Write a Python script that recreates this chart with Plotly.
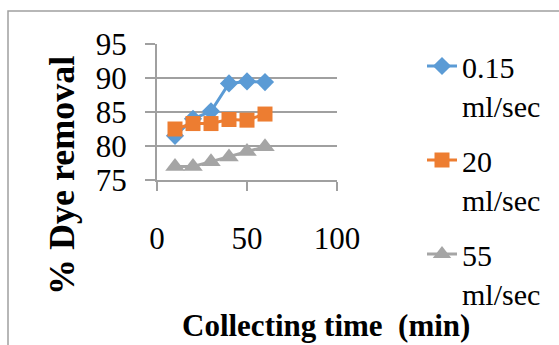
import plotly.graph_objects as go

time_min = [10, 20, 30, 40, 50, 60]
rate_015 = [81.5, 84.0, 85.1, 89.2, 89.5, 89.4]
rate_20 = [82.5, 83.3, 83.3, 83.9, 83.8, 84.7]
rate_55 = [77.0, 77.0, 77.7, 78.4, 79.2, 79.9]
series_names = ["0.15<br>ml/sec", "20<br>ml/sec", "55<br>ml/sec"]
x_ticks = [0, 50, 100]
y_ticks = [75, 80, 85, 90, 95]

FONT = "Liberation Serif"
W, H = 559, 345
L, R, T, B = 157, 337, 44, 180

def px_x(p):
    return (p - L) / (R - L)

def px_y(p):
    return (B - p) / (B - T)

fig = go.Figure()
styles = [("#5B9BD5", "diamond", 14), ("#ED7D31", "square", 15), ("#A5A5A5", "triangle-up", 17)]
for i, (vals, name, (col, sym, sz)) in enumerate(zip([rate_015, rate_20, rate_55], series_names, styles)):
    fig.add_trace(go.Scatter(
        x=time_min, y=vals, name=name, mode="lines+markers",
        line=dict(color=col, width=3),
        marker=dict(color=col, symbol=sym, size=sz),
        legendgroup=f"g{i}",
    ))

fig.update_layout(
    width=W, height=H,
    margin=dict(l=L, r=W - R, t=T, b=H - B, autoexpand=False),
    paper_bgcolor="white", plot_bgcolor="white",
    font=dict(family=FONT, size=30, color="black"),
    showlegend=True,
    legend=dict(x=px_x(422), y=px_y(40), xanchor="left", yanchor="top",
                tracegroupgap=13, valign="top", font=dict(size=30, family=FONT),
                bgcolor="rgba(0,0,0,0)", maxheight=340),
    xaxis=dict(range=[0, 100], tickvals=x_ticks, showgrid=False, zeroline=False,
               showline=True, linecolor="#A0A0A0", linewidth=2,
               ticks="outside", ticklen=9, tickcolor="#A0A0A0", tickwidth=2,
               ticklabelstandoff=21, tickfont=dict(size=31, family=FONT)),
    yaxis=dict(range=[75, 95], tickvals=y_ticks, showgrid=True, gridcolor="#A0A0A0", gridwidth=2,
               zeroline=False, showline=True, linecolor="#A0A0A0", linewidth=2,
               ticks="outside", ticklen=10, tickcolor="#A0A0A0", tickwidth=2,
               ticklabelstandoff=12, tickfont=dict(size=31, family=FONT)),
)

fig.add_annotation(text="<b>Collecting time  (min)</b>", xref="paper", yref="paper",
                   x=px_x(326), y=px_y(326), xanchor="center", yanchor="middle",
                   showarrow=False, font=dict(size=31, family=FONT))
fig.add_annotation(text="<b>% Dye removal</b>", xref="paper", yref="paper",
                   x=px_x(62), y=px_y(176), xanchor="center", yanchor="middle",
                   textangle=-90, showarrow=False, font=dict(size=36, family=FONT))

fig.add_shape(type="rect", xref="paper", yref="paper",
              x0=px_x(8), x1=px_x(575), y0=px_y(360), y1=px_y(11),
              line=dict(color="#A0A0A0", width=1.5), layer="below")

fig.write_html("out.html")
